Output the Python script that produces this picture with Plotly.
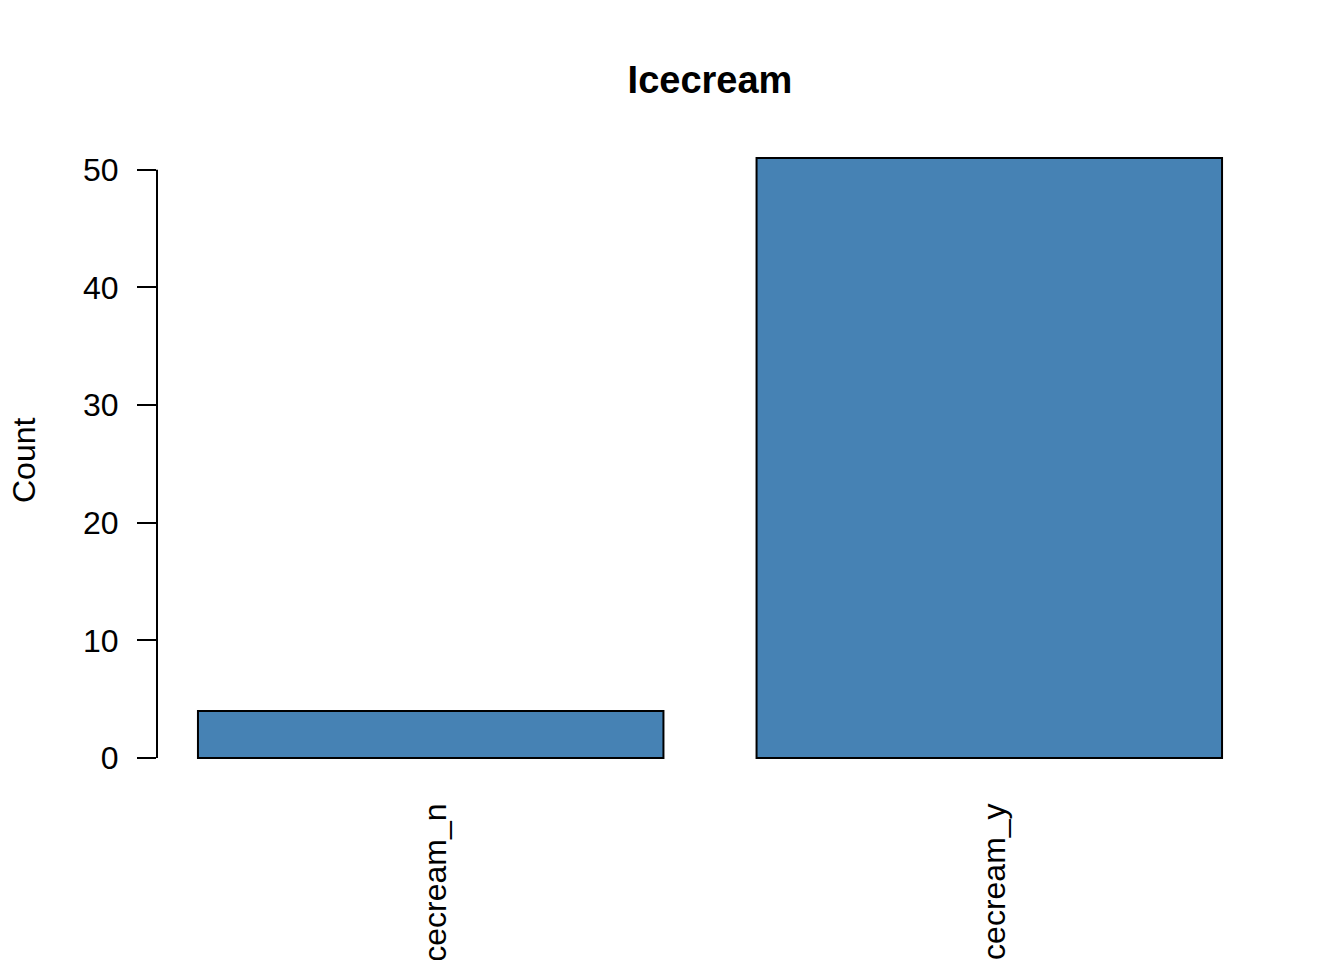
import plotly.graph_objects as go

categories = ["Icecream_n", "Icecream_y"]
counts = [4, 51]
y_ticks = [0, 10, 20, 30, 40, 50]
title_text = "Icecream"
y_label = "Count"

FONT = "Liberation Sans, Arial, sans-serif"

# page body has an 8px default margin; compensate so the plot lands where R put it
OFF = 8
W, H = 1344, 960
PL, PR, PT, PB = 157, 1263, 134, 782  # target plot-area edges in window pixels

fig = go.Figure()
fig.add_trace(go.Bar(
    x=categories,
    y=counts,
    width=1 / 1.2,
    marker=dict(color="#4682B4", line=dict(color="black", width=2)),
    showlegend=False,
))

ymax = max(counts)
ypad = 0.04 * ymax

fig.update_layout(
    width=W,
    height=H,
    paper_bgcolor="white",
    plot_bgcolor="white",
    margin=dict(l=PL - OFF, r=W + OFF - PR, t=PT - OFF, b=H + OFF - PB, autoexpand=False),
    font=dict(family=FONT, size=32, color="black"),
    title=dict(
        text="<b>" + title_text + "</b>",
        font=dict(family=FONT, size=38, color="black"),
        x=(0.5 * (PL + PR) - OFF) / W,
        xanchor="center",
        xref="container",
        y=1 - (80 - OFF) / H,
        yanchor="middle",
        yref="container",
    ),
    xaxis=dict(
        type="category",
        range=[-0.49, 1.49],
        showgrid=False,
        zeroline=False,
        showline=False,
        ticks="",
        tickangle=-90,
        ticklabelstandoff=14,
        ticklabelshift=5,
        tickfont=dict(family=FONT, size=32, color="black"),
        automargin=False,
        fixedrange=True,
    ),
    yaxis=dict(
        range=[-ypad, ymax + ypad],
        tickvals=y_ticks,
        ticktext=[str(v) for v in y_ticks],
        showgrid=False,
        zeroline=False,
        showline=False,
        ticks="outside",
        ticklen=19,
        tickwidth=2,
        tickcolor="black",
        ticklabelstandoff=12,
        tickfont=dict(family=FONT, size=32, color="black"),
        automargin=False,
        fixedrange=True,
    ),
    annotations=[dict(
        text=y_label,
        xref="paper", yref="paper",
        x=(24 - PL) / (PR - PL), y=(PB - 460) / (PB - PT),
        xanchor="center", yanchor="middle",
        textangle=-90,
        showarrow=False,
        font=dict(family=FONT, size=32, color="black"),
    )],
    shapes=[dict(
        type="line",
        xref="paper", yref="y",
        x0=0, x1=0,
        y0=min(y_ticks), y1=max(y_ticks),
        line=dict(color="black", width=2),
    )],
)

fig.write_html("out.html")
